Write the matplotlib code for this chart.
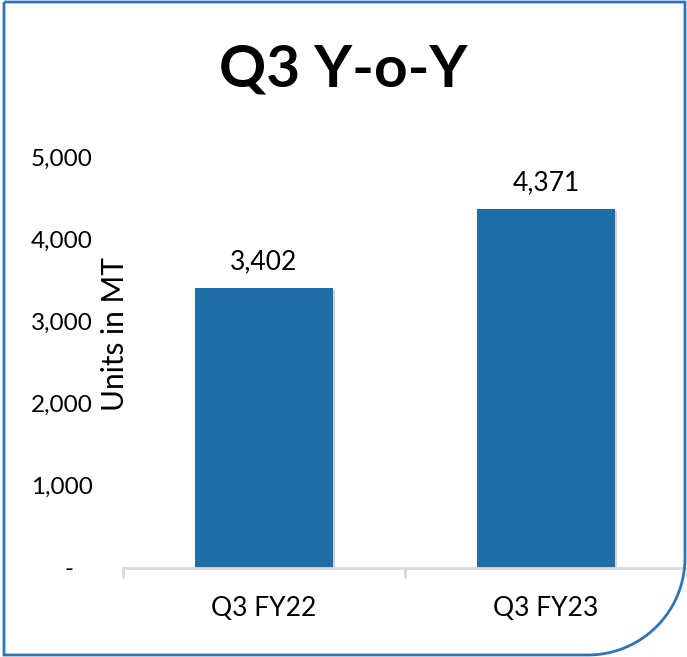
import numpy as np
import matplotlib
matplotlib.use('Agg')
import matplotlib.pyplot as plt
import matplotlib.patheffects as pe
from matplotlib.path import Path
from matplotlib.patches import PathPatch
from matplotlib.transforms import Affine2D

categories = ['Q3 FY22', 'Q3 FY23']
values = [3402, 4371]
y_ticks = [0, 1000, 2000, 3000, 4000, 5000]
y_tick_labels = ['-   ', '1,000', '2,000', '3,000', '4,000', '5,000']

plt.rcParams['font.family'] = ['Lato', 'DejaVu Sans']

W, H = 687, 657
fig = plt.figure(figsize=(W / 100, H / 100), dpi=100)
ax = fig.add_axes([123 / W, 1 - 568 / H, 564 / W, 411 / H])

x = np.arange(len(categories))
bars = ax.bar(x, values, width=0.486, color='#1F6EA7', zorder=3)
for b in bars:
    b.set_path_effects([pe.SimplePatchShadow(offset=(1.5, -1.5), shadow_rgbFace='#808080', alpha=0.35),
                        pe.Normal()])

for xi, v in zip(x, values):
    ax.annotate(f'{v:,}', (xi, v), xytext=(0, 10), textcoords='offset points',
                ha='center', va='bottom', fontsize=19)

ax.set_xlim(-0.5, 1.5)
ax.set_ylim(0, 5000)
ax.set_yticks(y_ticks)
ax.set_yticklabels(y_tick_labels)
ax.set_xticks(x)
ax.set_xticklabels(categories)
ax.set_xticks([-0.5, 0.5, 1.5], minor=True)
ax.tick_params(axis='y', length=0, pad=22, labelsize=17.5)
ax.tick_params(axis='x', which='major', length=0, pad=20, labelsize=19)
ax.tick_params(axis='x', which='minor', length=7, width=2, color='#D9D9D9')

for s in ['top', 'right', 'left']:
    ax.spines[s].set_visible(False)
ax.spines['bottom'].set_color('#D9D9D9')
ax.spines['bottom'].set_linewidth(2)
ax.spines['bottom'].set_zorder(4)

fig.text(115 / W, 1 - 334 / H, 'Units in MT', rotation=90, ha='center', va='center', fontsize=21.5)
fig.text(0.5, 1 - 70 / H, 'Q3 Y-o-Y', ha='center', va='center', fontsize=42, fontweight='bold')

# frame with rounded bottom-right corner (pixel coords, origin bottom-left)
r = 97
left, right, bottom, top = 4, 685, 2, 655
theta = np.linspace(0, -np.pi / 2, 30)
arc = np.column_stack([right - r + r * np.cos(theta), bottom + r + r * np.sin(theta)])
verts = np.vstack([[left, top], [right, top], [right, bottom + r], arc, [left, bottom], [left, top]])
frame = PathPatch(Path(verts), facecolor='none', edgecolor='#2E75B6', linewidth=2,
                  transform=Affine2D().scale(1 / W, 1 / H) + fig.transFigure)
fig.patches.append(frame)

fig.savefig('out.png', dpi=100)
